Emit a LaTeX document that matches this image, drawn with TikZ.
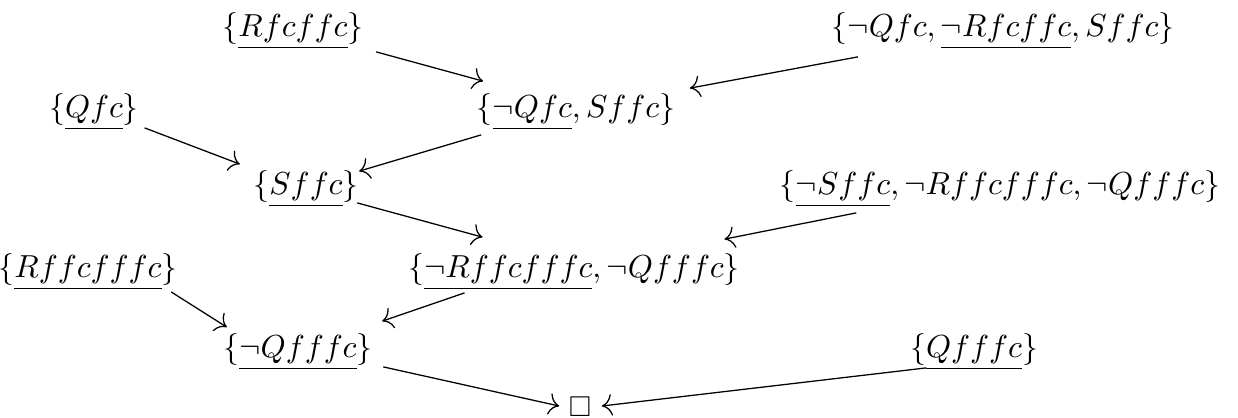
\documentclass[tikz,border=0pt]{standalone}
\usepackage{amsmath,amssymb}
\usepackage{tikz}
\usetikzlibrary{arrows.meta}
\begin{document}
\begin{tikzpicture}[
  x=0.314pt, y=-0.314pt,
  clause/.style={inner sep=0pt, anchor=center},
  arr/.style={-{To[scale=1.3]}, thin}
]
\useasboundingbox (0,0) rectangle (1238,417);
% clauses
\node[clause] (rfcffc) at (293,31) {$\{\underline{Rfcffc}\}$};
\node[clause] (nqrs) at (1003,31) {$\{\neg Qfc, \underline{\neg Rfcffc}, Sffc\}$};
\node[clause] (qfc) at (94,112) {$\{\underline{Qfc}\}$};
\node[clause] (nqs) at (576,112) {$\{\underline{\neg Qfc}, Sffc\}$};
\node[clause] (sffc) at (306,189) {$\{\underline{Sffc}\}$};
\node[clause] (nsrq) at (1000,189) {$\{\underline{\neg Sffc}, \neg Rffcfffc, \neg Qfffc\}$};
\node[clause] (rffcfffc) at (88,272) {$\{\underline{Rffcfffc}\}$};
\node[clause] (nrq) at (574,272) {$\{\underline{\neg Rffcfffc}, \neg Qfffc\}$};
\node[clause] (nqfffc) at (298,352) {$\{\underline{\neg Qfffc}\}$};
\node[clause] (qfffc) at (974,352) {$\{\underline{Qfffc}\}$};
\node[clause,font=\small] (empty) at (580,407) {$\Box$};
% resolution steps
\draw[arr] ([shift={(12,2)}]rfcffc.south east) -- ([shift={(7,-12)}]nqs.north west);
\draw[arr] ([shift={(27,7)}]nqrs.south west) -- ([shift={(14,-5)}]nqs.north east);
\draw[arr] ([shift={(5,-3)}]qfc.south east) -- ([shift={(-13,-6)}]sffc.north west);
\draw[arr] ([shift={(5,4)}]nqs.south west) -- ([shift={(0,1)}]sffc.north east);
\draw[arr] ([shift={(-2,-5)}]sffc.south east) -- ([shift={(75,-16)}]nrq.north west);
\draw[arr] ([shift={(77,5)}]nsrq.south west) -- ([shift={(-16,-14)}]nrq.north east);
\draw[arr] ([shift={(-7,1)}]rffcfffc.south east) -- ([shift={(4,-6)}]nqfffc.north west);
\draw[arr] ([shift={(57,2)}]nrq.south west) -- ([shift={(9,-12)}]nqfffc.north east);
\draw[arr] ([shift={(10,-4)}]nqfffc.south east) -- ([shift={(-9,-1)}]empty.west);
\draw[arr] ([shift={(17,-3)}]qfffc.south west) -- ([shift={(10,-1)}]empty.east);
\end{tikzpicture}
\end{document}
